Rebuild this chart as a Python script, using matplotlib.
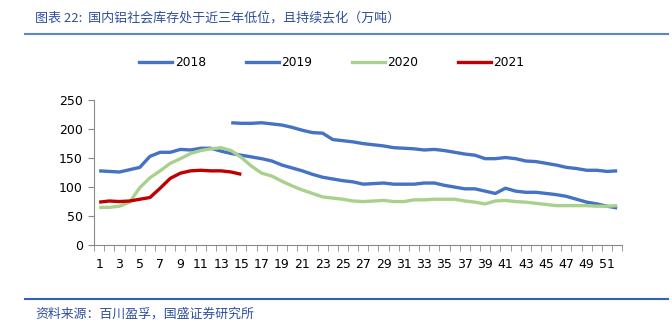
import numpy as np
import matplotlib
matplotlib.use('Agg')
import matplotlib.pyplot as plt
from matplotlib.lines import Line2D

plt.rcParams['font.family'] = ['DejaVu Sans']

weeks = np.arange(1, 53)

# 2018 data starts at week 14
y2018_weeks = np.arange(14, 53)
y2018 = [211, 210, 210, 211, 209, 207, 203, 198, 194, 193, 182, 180, 178, 175,
         173, 171, 168, 167, 166, 164, 165, 163, 160, 157, 155, 149, 149, 151,
         149, 145, 144, 141, 138, 134, 132, 129, 129, 127, 128]

y2019 = [128, 127, 126, 130, 134, 153, 160, 160, 165, 164, 167, 167, 162, 158,
         155, 152, 149, 145, 138, 133, 128, 122, 117, 114, 111, 109, 105, 106,
         107, 105, 105, 105, 107, 107, 103, 100, 97, 97, 93, 89, 98, 93,
         91, 91, 89, 87, 84, 79, 74, 71, 67, 64]

y2020 = [65, 65, 67, 74, 99, 116, 128, 141, 149, 158, 163, 166, 168, 163,
         151, 136, 124, 119, 110, 102, 95, 89, 83, 81, 79, 76, 75, 76,
         77, 75, 75, 78, 78, 79, 79, 79, 76, 74, 71, 76, 77, 75,
         74, 72, 70, 68, 68, 68, 68, 67, 67, 68]

y2021_weeks = np.arange(1, 16)
y2021 = [74, 76, 75, 76, 79, 82, 98, 115, 124, 128, 129, 128, 128, 126, 122]

blue = '#4472C4'
green = '#A9D18E'
red = '#C00000'
lw = 2.4

fig = plt.figure(figsize=(6.72, 3.22), dpi=100)
ax = fig.add_axes([0.140, 0.239, 0.786, 0.450])

ax.plot(y2018_weeks, y2018, color=blue, lw=lw, solid_capstyle='butt')
ax.plot(weeks, y2019, color=blue, lw=lw, solid_capstyle='butt')
ax.plot(weeks, y2020, color=green, lw=lw, solid_capstyle='butt')
ax.plot(y2021_weeks, y2021, color=red, lw=lw, solid_capstyle='butt')

ax.set_xlim(0.5, 52.5)
ax.set_ylim(0, 250)
ax.set_yticks(range(0, 251, 50))
ax.set_xticks(np.arange(1, 53, 2))
ax.set_xticks(np.arange(0.5, 53, 1), minor=True)
ax.tick_params(axis='x', which='major', length=0, pad=9, labelsize=9, colors='black')
ax.tick_params(axis='x', which='minor', length=4, color='#898989')
ax.tick_params(axis='y', length=4, color='#898989', labelsize=9, pad=4)
for s in ['top', 'right']:
    ax.spines[s].set_visible(False)
for s in ['left', 'bottom']:
    ax.spines[s].set_color('#898989')
    ax.spines[s].set_linewidth(0.8)

handles = [Line2D([], [], color=c, lw=lw) for c in [blue, blue, green, red]]
fig.legend(handles, ['2018', '2019', '2020', '2021'], ncol=4, loc='center',
           bbox_to_anchor=(0.494, 0.805), frameon=False, fontsize=8.8,
           handlelength=2.7, handletextpad=0.2, columnspacing=3.25)

title_color = '#2F4F9E'
fig.text(0.052, 0.944, '图表 22:  国内铝社会库存处于近三年低位，且持续去化（万吨）',
         family=['Noto Sans CJK SC', 'DejaVu Sans'], fontsize=9.4, color=title_color,
         style='italic', va='center', ha='left')
fig.add_artist(Line2D([0.037, 0.994], [0.894, 0.894], color='#5B87CF', lw=1.5))
fig.add_artist(Line2D([0.037, 0.994], [0.072, 0.072], color='#2F62C0', lw=1.5))
fig.text(0.052, 0.025, '资料来源：百川盈孚，国盛证券研究所',
         family=['Noto Sans CJK SC', 'DejaVu Sans'], fontsize=9.3, color=title_color,
         style='italic', va='center', ha='left')

fig.savefig('out.png', dpi=100)
